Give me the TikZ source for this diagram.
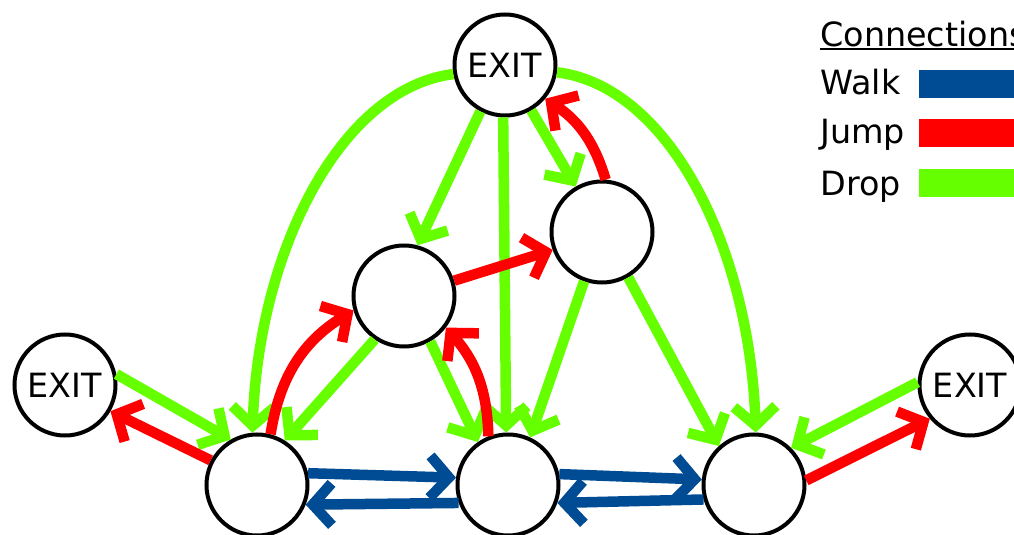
\documentclass[tikz,border=0pt]{standalone}
\usepackage{fontspec}
\setmainfont{DejaVu Sans}
\usetikzlibrary{arrows.meta}

\definecolor{walkblue}{RGB}{0,76,148}
\definecolor{jumpred}{RGB}{255,0,0}
\definecolor{dropgreen}{RGB}{102,255,0}

\tikzset{
  spot/.style={circle, draw=black, line width=0.8mm, fill=white, minimum size=20.2mm, inner sep=0pt, font=\fontsize{19}{22}\selectfont},
  conn/.style={line width=2.1mm, -{Straight Barb[length=3.8mm,width=8.4mm]}},
  walk/.style={conn, draw=walkblue},
  jump/.style={conn, draw=jumpred},
  drop/.style={conn, draw=dropgreen},
  legtext/.style={anchor=base west, inner sep=0pt, font=\fontsize{19}{22}\selectfont},
}

\begin{document}
\begin{tikzpicture}[x=0.2mm, y=-0.2mm]
			%%%%% START %%%%%
			\useasboundingbox (0,0) rectangle (1014,535);

			% spots
			\node[spot] (top) at (505,65) {EXIT};
			\node[spot] (lexit) at (65,385) {EXIT};
			\node[spot] (rexit) at (970,385) {EXIT};
			\node[spot] (ml) at (404,296) {};
			\node[spot] (mr) at (602,232) {};
			\node[spot] (bl) at (257,485) {};
			\node[spot] (bm) at (508,485) {};
			\node[spot] (br) at (754,485) {};

			% drops
			\draw[drop] (top.190) to[out=187, in=88, out looseness=0.7, in looseness=1.15] (bl.95);
			\draw[drop] (top.-8) to[out=-7, in=92, out looseness=0.7, in looseness=1.15] (br.88);
			\draw[drop] (top.242) -- (ml.75);
			\draw[drop] (top.268) -- (bm.92);
			\draw[drop] (top.-60) -- (mr.120);
			\draw[drop] (ml.236) -- (bl.58);
			\draw[drop] (ml.-60) -- (bm.125);
			\draw[drop] (mr.-110) -- (bm.65);
			\draw[drop] (mr.-60) -- (br.132);
			\draw[drop] (lexit.12) -- (bl.120);
			\draw[drop] (rexit.177) -- (br.45);

			% jumps
			\draw[jump] (bl.152) -- (lexit.-30);
			\draw[jump] (bl.75) to[bend left=25] (ml.196);
			\draw[jump] (bm.112) to[bend right=20] (ml.-37);
			\draw[jump] (ml.17) -- (mr.200);
			\draw[jump] (mr.86) to[bend right=20] (top.-40);
			\draw[jump] (br.5) -- (rexit.220);

			% walks
			\draw[walk] (bl.13) -- (bm.172);
			\draw[walk] (bm.200) -- (bl.-22);
			\draw[walk] (bm.12) -- (br.174);
			\draw[walk] (br.196) -- (bm.-20);

			% legend
			\node[legtext] (legtitle) at (820,47) {Connections};
			\draw[line width=0.45mm] (legtitle.base west) ++(0,2) -- ++(200,0);
			\node[legtext] (walklbl) at (820,95) {Walk};
			\node[legtext] (jumplbl) at (820,144) {Jump};
			\node[legtext] (droplbl) at (820,196) {Drop};
			\fill[walkblue] (919,70) rectangle (1030,98);
			\fill[jumpred] (919,119) rectangle (1030,147);
			\fill[dropgreen] (919,169) rectangle (1030,197);
			%%%%% END %%%%%
\end{tikzpicture}
\end{document}
